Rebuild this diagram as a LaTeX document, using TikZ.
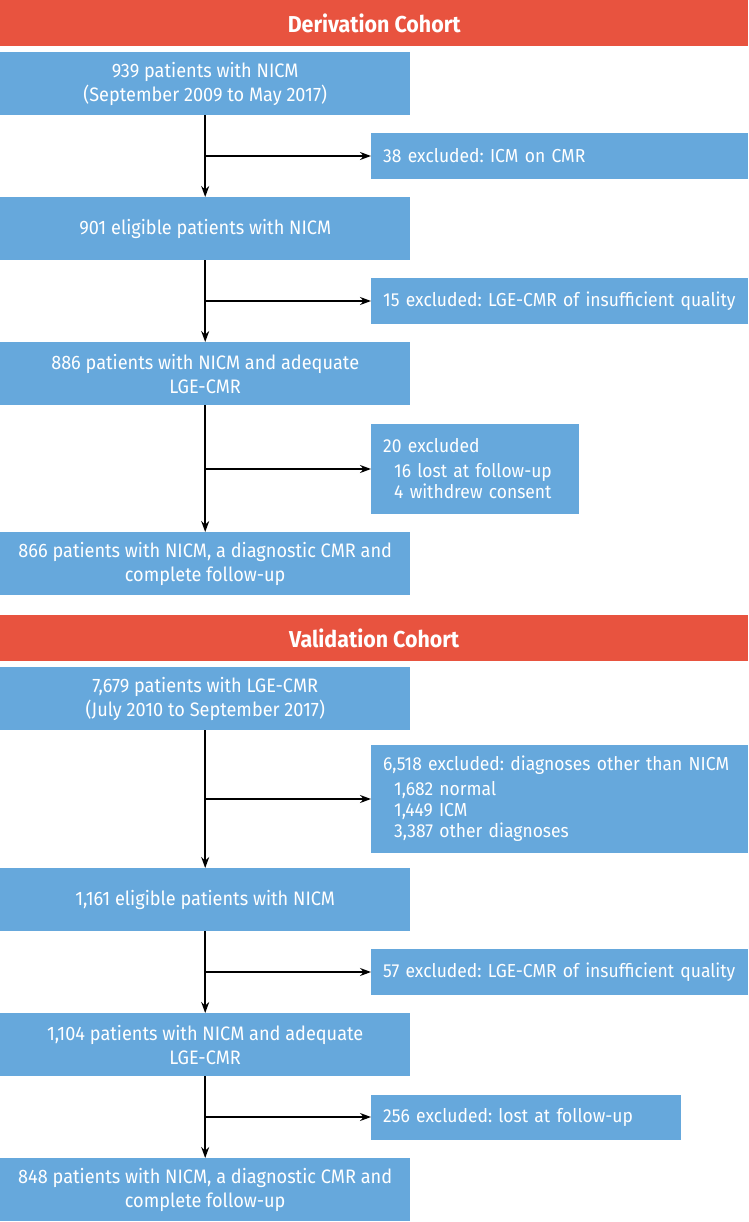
\documentclass[tikz,border=0pt]{standalone}
\usepackage{fontspec}
\setmainfont[FakeStretch=0.93]{Fira Sans}
\frenchspacing
\usetikzlibrary{arrows.meta}
\definecolor{hdr}{HTML}{E8533F}
\definecolor{boxblue}{HTML}{66A8DC}
\tikzset{
  hdrbox/.style={fill=hdr, text=white, anchor=north west, minimum width=748pt, minimum height=46pt, inner sep=0pt, font=\fontsize{23}{26}\selectfont\bfseries},
  mainbox/.style={fill=boxblue, text=white, anchor=north west, minimum width=410pt, minimum height=63pt, inner sep=0pt, align=center, font=\fontsize{19.5}{24}\selectfont},
  sidebox/.style={fill=boxblue, text=white, anchor=west, inner xsep=12pt, inner ysep=0pt, align=left, font=\fontsize{18.8}{21}\selectfont},
  arr/.style={draw=black, line width=1.5pt, -{Stealth[length=11pt,width=8pt]}}
}
\begin{document}
\begin{tikzpicture}[x=1pt,y=-1pt]
\useasboundingbox (0,0) rectangle (748,1222);
% Derivation
\node[hdrbox] (h1) at (0,0) {Derivation Cohort};
\node[mainbox] (a) at (0,52) {939 patients with NICM\\(September 2009 to May 2017)};
\node[mainbox] (b) at (0,197) {901 eligible patients with NICM};
\node[mainbox] (c) at (0,342) {886 patients with NICM and adequate\\LGE-CMR};
\node[mainbox] (d) at (0,532) {866 patients with NICM, a diagnostic CMR and\\complete follow-up};
\node[sidebox, minimum height=46pt, text width=353pt] (s1) at (371,156) {\mbox{38 excluded: ICM on CMR}};
\node[sidebox, minimum height=46pt, text width=353pt] (s2) at (371,301) {\mbox{15 excluded: LGE-CMR of insufficient quality}};
\node[sidebox, minimum height=90pt, text width=184pt] (s3) at (371,469) {\mbox{20 excluded}\\[4pt]\mbox{\hspace*{11pt}16 lost at follow-up}\\\mbox{\hspace*{11pt}4 withdrew consent}};
\coordinate (j1) at (205,156);
\coordinate (j2) at (205,301);
\coordinate (j3) at (205,469);
\draw[arr] (a.south) -- (b.north);
\draw[arr] (b.south) -- (c.north);
\draw[arr] (c.south) -- (d.north);
\draw[arr] (j1) -- (s1.west);
\draw[arr] (j2) -- (s2.west);
\draw[arr] (j3) -- (s3.west);
% Validation
\node[hdrbox] (h2) at (0,615) {Validation Cohort};
\node[mainbox] (e) at (0,667) {7,679 patients with LGE-CMR\\(July 2010 to September 2017)};
\node[mainbox] (f) at (0,868) {1,161 eligible patients with NICM};
\node[mainbox] (g) at (0,1013) {1,104 patients with NICM and adequate\\LGE-CMR};
\node[mainbox] (h) at (0,1158) {848 patients with NICM, a diagnostic CMR and\\complete follow-up};
\node[sidebox, minimum height=108pt, text width=353pt] (s4) at (371,799) {\mbox{6,518 excluded: diagnoses other than NICM}\\[4pt]\mbox{\hspace*{11pt}1,682 normal}\\\mbox{\hspace*{11pt}1,449 ICM}\\\mbox{\hspace*{11pt}3,387 other diagnoses}};
\node[sidebox, minimum height=46pt, text width=353pt] (s5) at (371,972) {\mbox{57 excluded: LGE-CMR of insufficient quality}};
\node[sidebox, minimum height=45pt, text width=286pt] (s6) at (371,1117) {\mbox{256 excluded: lost at follow-up}};
\coordinate (j4) at (205,799);
\coordinate (j5) at (205,972);
\coordinate (j6) at (205,1117);
\draw[arr] (e.south) -- (f.north);
\draw[arr] (f.south) -- (g.north);
\draw[arr] (g.south) -- (h.north);
\draw[arr] (j4) -- (s4.west);
\draw[arr] (j5) -- (s5.west);
\draw[arr] (j6) -- (s6.west);
\end{tikzpicture}
\end{document}
